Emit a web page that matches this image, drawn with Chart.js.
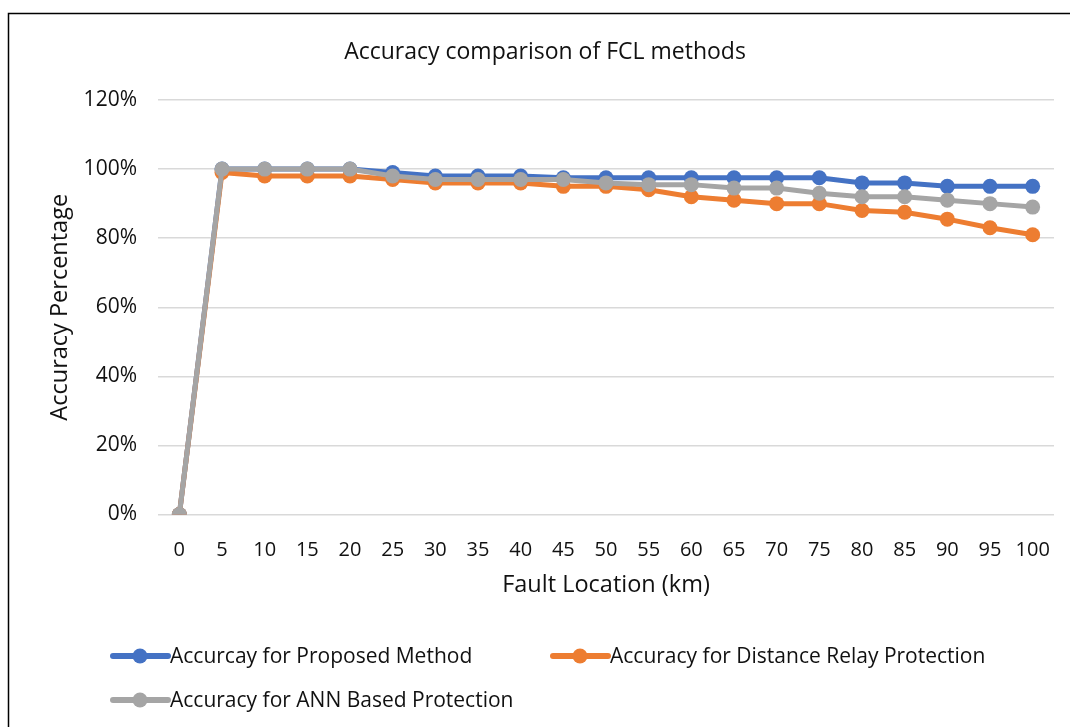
<!DOCTYPE html>
<html>
<head>
<meta charset="utf-8">
<script src="https://cdn.jsdelivr.net/npm/chart.js@4.4.0/dist/chart.umd.min.js"></script>
<style>
  html, body { margin: 0; padding: 0; background: #fff; }
  #wrap { position: relative; width: 1070px; height: 727px; }
</style>
</head>
<body>
<div id="wrap"><canvas id="c" width="1070" height="727"></canvas></div>
<script>
const FONT = "'Open Sans', 'DejaVu Sans', sans-serif";

// data
const chartTitle = 'Accuracy comparison of FCL methods';
const faultKm = ['0', '5', '10', '15', '20', '25', '30', '35', '40', '45', '50', '55', '60', '65', '70', '75', '80', '85', '90', '95', '100'];
const proposed = [0, 100, 100, 100, 100, 99, 98, 98, 98, 97.5, 97.5, 97.5, 97.5, 97.5, 97.5, 97.5, 96, 96, 95, 95, 95];
const distRelay = [0, 99, 98, 98, 98, 97, 96, 96, 96, 95, 95, 94, 92, 91, 90, 90, 88, 87.5, 85.5, 83, 81];
const annBased = [0, 100, 100, 100, 100, 98, 97, 97, 97, 97, 96, 95.5, 95.5, 94.5, 94.5, 93, 92, 92, 91, 90, 89];
const seriesNames = ['Accurcay for Proposed Method', 'Accuracy for Distance Relay Protection', 'Accuracy for ANN Based Protection'];
const seriesColors = ['#4472C4', '#ED7D31', '#A5A5A5'];

const ds = (i, data, order) => ({
  label: seriesNames[i], data, order,
  borderColor: seriesColors[i], backgroundColor: seriesColors[i],
  borderWidth: 5, pointRadius: 7.5, pointHoverRadius: 7.5, pointBorderWidth: 0,
  tension: 0,
});

// frame, title and legend drawn by hand, Excel style (grid layout of entries)
const frameLegend = {
  id: 'frameLegend',
  afterDraw(chart) {
    const ctx = chart.ctx;
    ctx.save();
    ctx.strokeStyle = '#000';
    ctx.lineWidth = 1.5;
    ctx.strokeRect(8.5, 13.5, 1200, 900);
    ctx.fillStyle = '#111';
    ctx.textAlign = 'center';
    ctx.textBaseline = 'middle';
    ctx.font = '23px ' + FONT;
    ctx.fillText(chartTitle, 545, 52);
    const spots = [[110, 656], [550, 656], [110, 700]];
    ctx.textAlign = 'left';
    ctx.font = '21px ' + FONT;
    chart.data.datasets.forEach((d, i) => {
      const [x, y] = spots[i];
      ctx.strokeStyle = d.borderColor;
      ctx.fillStyle = d.borderColor;
      ctx.lineWidth = 6;
      ctx.lineCap = 'round';
      ctx.beginPath(); ctx.moveTo(x + 3, y); ctx.lineTo(x + 58, y); ctx.stroke();
      ctx.beginPath(); ctx.arc(x + 30, y, 7.5, 0, Math.PI * 2); ctx.fill();
      ctx.fillStyle = '#111';
      ctx.fillText(d.label, x + 60, y + 1);
    });
    ctx.restore();
  },
};

new Chart(document.getElementById('c'), {
  type: 'line',
  data: { labels: faultKm, datasets: [ds(0, proposed, 2), ds(1, distRelay, 1), ds(2, annBased, 0)] },
  plugins: [frameLegend],
  options: {
    responsive: false, animation: false,
    layout: { padding: { left: 0, right: 16, top: 100, bottom: 107 } },
    plugins: {
      legend: { display: false },
      tooltip: { enabled: false },
      title: { display: false },
    },
    scales: {
      x: {
        offset: true,
        grid: { display: false },
        border: { display: false },
        ticks: { color: '#111', font: { family: FONT, size: 20 }, padding: 16, autoSkip: false, maxRotation: 0 },
        title: { display: true, text: 'Fault Location (km)', color: '#111', font: { family: FONT, size: 23.5 }, padding: { top: 0, bottom: 21 } },
        afterFit(s) { s.height = 105.5; },
      },
      y: {
        min: 0, max: 120,
        grid: { color: '#D9D9D9', lineWidth: 1.5, drawTicks: false },
        border: { display: false },
        ticks: { stepSize: 20, color: '#111', font: { family: FONT, size: 21 }, padding: 21, callback: (v) => v + '%' },
        title: { display: true, text: 'Accuracy Percentage', color: '#111', font: { family: FONT, size: 23.5 }, padding: { top: 46, bottom: 0 } },
        afterFit(s) { s.width = 158; },
      },
    },
  },
});
</script>
</body>
</html>
